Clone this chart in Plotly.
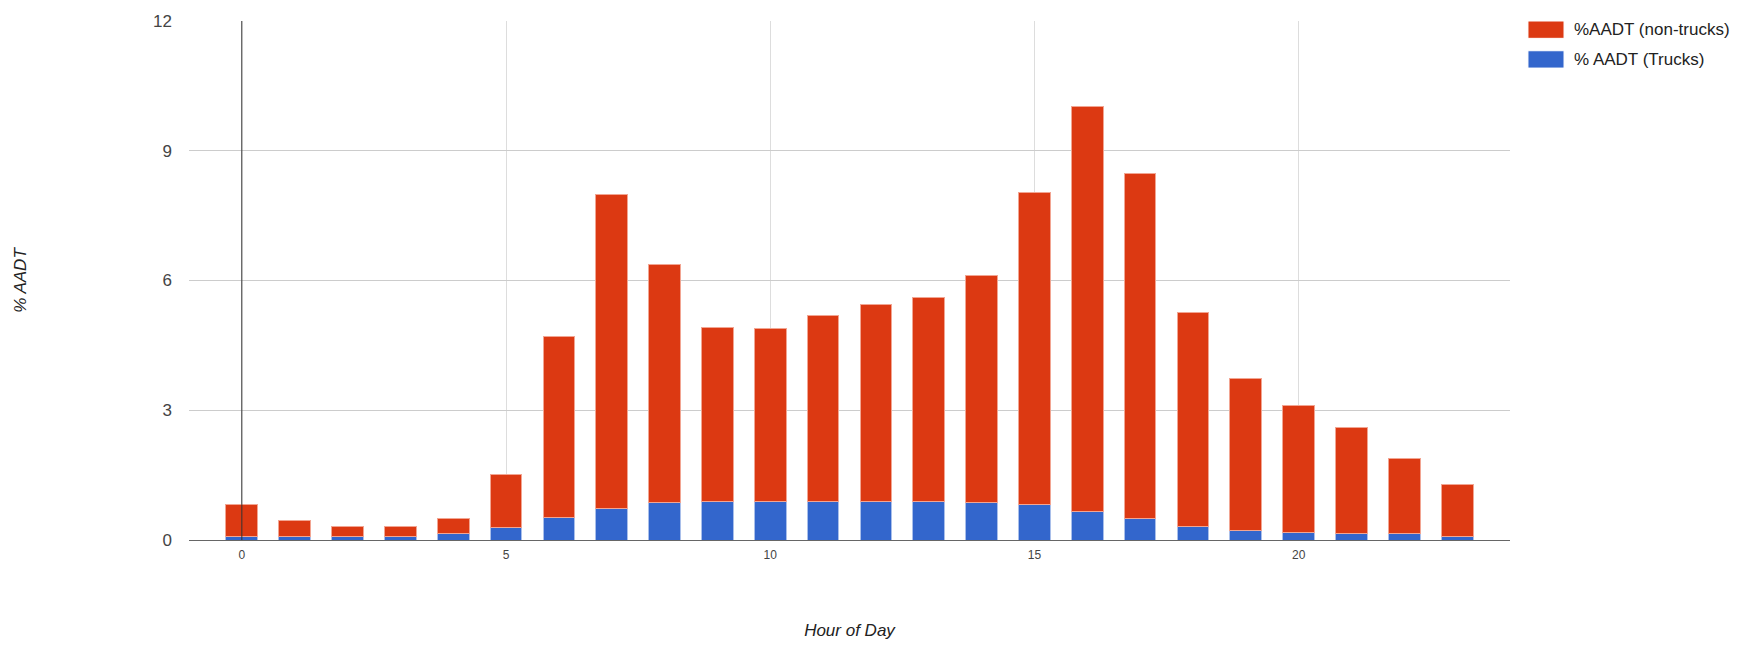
import plotly.graph_objects as go

# Hourly share of annual average daily traffic (AADT), in percent
hours = list(range(24))
total_pct = [0.82, 0.46, 0.31, 0.31, 0.50, 1.51, 4.71, 7.98, 6.37, 4.91, 4.89, 5.19,
             5.45, 5.60, 6.12, 8.03, 10.03, 8.47, 5.27, 3.74, 3.12, 2.61, 1.88, 1.29]
trucks_pct = [0.07, 0.07, 0.07, 0.07, 0.14, 0.28, 0.53, 0.74, 0.86, 0.90, 0.90, 0.90,
              0.90, 0.90, 0.86, 0.81, 0.67, 0.50, 0.32, 0.23, 0.18, 0.16, 0.14, 0.09]
non_trucks_pct = [round(t - k, 2) for t, k in zip(total_pct, trucks_pct)]

series_names = ["%AADT (non-trucks)", "% AADT (Trucks)"]
x_ticks = [0, 5, 10, 15, 20]
y_ticks = [0, 3, 6, 9, 12]

RED = "#DC3912"
BLUE = "#3366CC"
FONT = "Liberation Sans, Arial, sans-serif"

fig = go.Figure()
fig.add_trace(go.Bar(
    x=hours, y=trucks_pct, name=series_names[1], width=0.6,
    marker=dict(color=BLUE, line=dict(color="#A9BFEA", width=1)),
))
fig.add_trace(go.Bar(
    x=hours, y=non_trucks_pct, name=series_names[0], width=0.6,
    marker=dict(color=RED, line=dict(color="#F2A592", width=1)),
))

# Baseline at hour 0, drawn over the bars
fig.add_shape(type="line", xref="x", yref="paper", x0=0, x1=0, y0=0, y1=1,
              line=dict(color="#333333", width=1), layer="above")

# Legend: wide swatches with labels to the right of the plot
legend_colors = [RED, BLUE]
swatch_tops = [1.0, 0.9427]
for name, color, top in zip(series_names, legend_colors, swatch_tops):
    fig.add_shape(type="rect", xref="paper", yref="paper",
                  x0=1.0136, x1=1.0409, y0=top - 0.0334, y1=top,
                  fillcolor=color, line=dict(color="#FFFFFF", width=1))
    fig.add_annotation(xref="paper", yref="paper", x=1.0470, y=top - 0.0167,
                       text=name, showarrow=False, xanchor="left", yanchor="middle",
                       font=dict(family=FONT, size=17, color="#222222"))

fig.update_layout(
    width=1749, height=649,
    margin=dict(l=189, r=239, t=16, b=109),
    barmode="stack",
    bargap=0.4,
    showlegend=False,
    plot_bgcolor="white",
    paper_bgcolor="white",
    font=dict(family=FONT, color="#444444"),
)
fig.update_xaxes(
    range=[-1, 24], tickvals=x_ticks, ticks="",
    showgrid=True, gridcolor="#DDDDDD", gridwidth=1,
    zeroline=False,
    showline=True, linecolor="#666666", linewidth=1,
    tickfont=dict(family=FONT, size=12, color="#444444"),
    ticklabelstandoff=4,
    title=dict(text="<i>Hour of Day</i>", standoff=62,
               font=dict(family=FONT, size=17, color="#222222")),
)
fig.update_yaxes(
    range=[0, 12], tickvals=y_ticks, ticks="",
    showgrid=True, gridcolor="#CCCCCC", gridwidth=1,
    zeroline=False,
    tickfont=dict(family=FONT, size=17, color="#444444"),
    ticklabelstandoff=16,
    title=dict(text="<i>% AADT</i>", standoff=122,
               font=dict(family=FONT, size=17, color="#222222")),
)

fig.write_html("out.html")
